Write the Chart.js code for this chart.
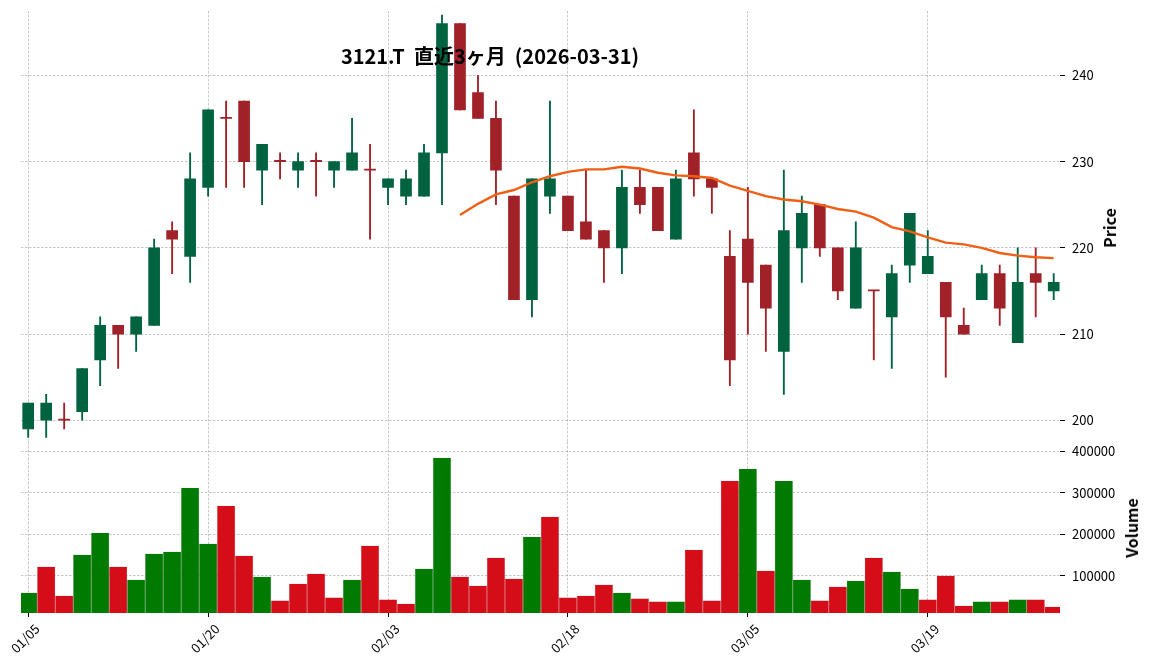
<!DOCTYPE html>
<html>
<head>
<meta charset="utf-8">
<script src="https://cdn.jsdelivr.net/npm/chart.js@4.4.1/dist/chart.umd.min.js"></script>
<style>
  body { margin: 0; background: #fff; }
  #wrap { position: relative; width: 1152px; height: 670px; font-family: 'Noto Sans CJK JP', 'Noto Sans', sans-serif; }
  canvas { position: absolute; left: 0; top: 0; }
  .lbl { position: absolute; font-weight: bold; white-space: pre; color: #000; transform: translate(-50%, -50%); }
  #title { left: 490px; top: 55px; font-size: 20px; }
  #ylab1 { left: 1109px; top: 228px; font-size: 16px; transform: translate(-50%, -50%) rotate(-90deg); }
  #ylab2 { left: 1131px; top: 528px; font-size: 16px; transform: translate(-50%, -50%) rotate(-90deg); }
</style>
</head>
<body>
<div id="wrap">
  <canvas id="price" width="1152" height="670"></canvas>
  <canvas id="volume" width="1152" height="670"></canvas>
  <div class="lbl" id="title">3121.T  直近3ヶ月  (2026-03-31)</div>
  <div class="lbl" id="ylab1">Price</div>
  <div class="lbl" id="ylab2">Volume</div>
</div>
<script>
// daily bars, 2026-01-05 .. 2026-03-31
const dates = ['01/05','01/06','01/07','01/08','01/09','01/13','01/14','01/15','01/16','01/19',
  '01/20','01/21','01/22','01/23','01/26','01/27','01/28','01/29','01/30','02/02',
  '02/03','02/04','02/05','02/06','02/09','02/10','02/12','02/13','02/16','02/17',
  '02/18','02/19','02/20','02/24','02/25','02/26','02/27','03/02','03/03','03/04',
  '03/05','03/06','03/09','03/10','03/11','03/12','03/13','03/16','03/17','03/18',
  '03/19','03/23','03/24','03/25','03/26','03/27','03/30','03/31'];

const opens  = [199,200,200,201,207,211,210,211,222,219, 227,235,237,229,230,229,230,229,229,229,
  227,226,226,231,246,238,235,226,214,226, 226,223,222,220,227,227,221,231,228,219,
  221,218,208,220,225,220,213,215,212,218, 217,216,211,214,217,209,217,215];
const highs  = [202,203,202,206,212,211,212,221,223,231, 236,237,237,232,231,231,231,230,235,232,
  228,229,232,247,246,240,237,226,228,237, 226,229,222,229,229,227,229,236,228,222,
  227,218,229,226,225,220,223,215,218,224, 222,216,213,218,218,220,220,217];
const lows   = [198,198,199,200,204,206,208,211,217,216, 226,227,227,225,228,227,226,227,229,221,
  225,225,226,225,236,235,225,214,212,224, 222,221,216,217,224,222,221,226,224,204,
  210,208,203,216,219,214,213,207,206,216, 217,205,210,214,211,209,212,214];
const closes = [202,202,200,206,211,210,212,220,221,228, 236,235,230,232,230,230,230,230,231,229,
  228,228,231,246,236,235,229,214,228,228, 222,221,220,227,225,222,228,228,227,207,
  216,213,222,224,220,215,220,215,217,224, 219,212,210,217,213,216,216,216];
const volumes = [59100,121700,51900,150500,203400,121700,90400,152900,157700,311700,
  177000,268400,148100,97600,39900,80800,104800,47100,90400,172200,
  42300,32600,116800,383900,97600,75900,143300,92800,193800,241900,
  47100,51900,78300,59100,44700,37500,37500,162500,39900,328500,
  357400,112000,328500,90400,39900,73500,88000,143300,109600,68700,
  42300,100000,27800,37500,37500,42300,42300,25400];
// 25-day moving average, starts on the 25th bar
const ma25 = Array(24).fill(null).concat([
  223.8,225.1,226.2,226.7,227.6,228.3,228.8,229.1,229.1,229.4,
  229.2,228.7,228.4,228.3,228.1,227.2,226.6,226.0,225.6,225.4,
  225.0,224.5,224.2,223.5,222.4,221.9,221.2,220.6,220.4,220.0,
  219.4,219.1,218.9,218.8]);

const priceTicks = [200,210,220,230,240];
const volumeTicks = [100000,200000,300000,400000];
const xTicks = [0,10,20,30,40,50];

const upColor = '#006340', downColor = '#a02128';
const volUpColor = '#007a00', volDownColor = '#d50d18';
const maColor = '#f05f16';
const gridColor = 'rgba(0,0,0,0.28)';
const fontFam = "'Noto Sans CJK JP', 'Noto Sans', sans-serif";

const candleColors = opens.map((o, i) => o < closes[i] ? upColor : downColor);
const volColors = volumes.map((v, i) => (i === 0 || closes[i] > closes[i - 1]) ? volUpColor : volDownColor);

function xAxis(showLabels) {
    return {
        type: 'linear',
        offset: false,
        min: -0.4,
        max: 57.35,
        afterBuildTicks: s => { s.ticks = xTicks.map(v => ({ value: v })); },
        grid: { offset: false, color: gridColor, lineWidth: 0.8, drawTicks: showLabels, tickLength: 4, tickColor: '#000', tickWidth: 1 },
        border: { display: false, dash: [2.5, 1.5] },
        ticks: {
            display: showLabels, autoSkip: false, minRotation: 45, maxRotation: 45,
            labelOffset: 9, padding: 4, color: '#000',
            font: { family: fontFam, size: 13 },
            callback: v => dates[v]
        },
        afterFit: s => {
            s.height = showLabels ? 57 : 0;
            s.paddingLeft = 0;
            s.paddingRight = 0;
        }
    };
}

function yAxis(min, max, ticks) {
    return {
        position: 'right',
        min: min,
        max: max,
        afterBuildTicks: s => { s.ticks = ticks.map(v => ({ value: v })); },
        grid: { color: gridColor, lineWidth: 0.8, tickLength: 5, tickColor: '#000', tickWidth: 1 },
        border: { display: false, dash: [2.5, 1.5] },
        ticks: { padding: 7, color: '#000', font: { family: fontFam, size: 13 }, callback: v => String(v) },
        afterFit: s => {
            s.width = 92;
            s.paddingTop = 0;
            s.paddingBottom = 0;
        }
    };
}

const common = {
    responsive: false,
    animation: false,
    devicePixelRatio: 1,
    plugins: { legend: { display: false }, tooltip: { enabled: false }, title: { display: false } }
};

new Chart(document.getElementById('price').getContext('2d'), {
    type: 'bar',
    data: {
        datasets: [
            {
                type: 'line',
                data: ma25.map((v, i) => ({ x: i, y: v })),
                borderColor: maColor,
                borderWidth: 2.4,
                pointRadius: 0,
                tension: 0,
                order: 0
            },
            {
                data: opens.map((o, i) => ({ x: i, y: [o, closes[i]] })),
                backgroundColor: candleColors,
                barThickness: 11,
                minBarLength: 1.2,
                grouped: false,
                order: 1
            },
            {
                data: lows.map((l, i) => ({ x: i, y: [l, highs[i]] })),
                backgroundColor: candleColors,
                barThickness: 1.2,
                grouped: false,
                order: 2
            }
        ]
    },
    options: {
        ...common,
        layout: { padding: { left: 21, top: 11, right: 0, bottom: 228.5 } },
        scales: { x: xAxis(false), y: yAxis(197.54, 247.46, priceTicks) }
    }
});

new Chart(document.getElementById('volume').getContext('2d'), {
    type: 'bar',
    data: {
        datasets: [{
            data: volumes.map((v, i) => ({ x: i, y: v })),
            backgroundColor: volColors,
            borderColor: 'rgba(0,0,0,0.12)',
            borderWidth: 0.6,
            barPercentage: 1,
            categoryPercentage: 1
        }]
    },
    options: {
        ...common,
        layout: { padding: { left: 21, top: 442, right: 0, bottom: 0 } },
        scales: { x: xAxis(true), y: yAxis(10000, 422000, volumeTicks) }
    }
});
</script>
</body>
</html>
